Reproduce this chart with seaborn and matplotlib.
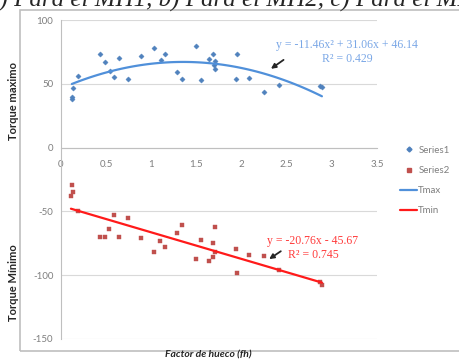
import numpy as np
import pandas as pd
import seaborn as sns
import matplotlib.pyplot as plt
from matplotlib.patches import Rectangle
from matplotlib.lines import Line2D

# Datos
fh_max = [0.12, 0.12, 0.13, 0.19, 0.43, 0.49, 0.54, 0.59, 0.64, 0.74, 0.89, 1.03, 1.11, 1.15, 1.28,
          1.34, 1.49, 1.55, 1.64, 1.68, 1.70, 1.71, 1.71, 1.94, 1.95, 2.08, 2.25, 2.42, 2.87, 2.89]
t_max = [37.7, 39.5, 46.4, 56.0, 73.4, 67.0, 60.0, 55.6, 70.0, 54.0, 72.0, 78.0, 68.6, 73.4, 59.2,
         53.5, 80.0, 53.2, 69.2, 73.4, 64.7, 67.8, 61.3, 53.7, 73.4, 54.8, 43.8, 48.7, 48.0, 47.2]

fh_min = [0.11, 0.12, 0.13, 0.19, 0.43, 0.49, 0.53, 0.59, 0.64, 0.74, 0.89, 1.03, 1.10, 1.15, 1.28,
          1.34, 1.49, 1.55, 1.64, 1.68, 1.68, 1.71, 1.71, 1.94, 1.95, 2.08, 2.25, 2.42, 2.87, 2.89]
t_min = [-38.3, -29.6, -35.0, -50.0, -69.7, -69.7, -63.7, -52.7, -70.0, -54.8, -71.0, -82.0, -73.0,
         -77.6, -67.0, -60.5, -87.5, -72.3, -88.6, -74.4, -85.4, -62.6, -81.5, -79.4, -98.0, -84.0,
         -84.7, -96.0, -105.6, -107.7]

eq_max = "y = -11.46x² + 31.06x + 46.14\nR² = 0.429"
eq_min = "y = -20.76x - 45.67\nR² = 0.745"

df_max = pd.DataFrame({'fh': fh_max, 'T': t_max})
df_min = pd.DataFrame({'fh': fh_min, 'T': t_min})

sns.set_style('white')
plt.rcParams['font.family'] = ['Lato', 'DejaVu Sans']
plt.rcParams['axes.unicode_minus'] = False

blue_pt = '#4f81bd'
red_pt = '#c0504d'
blue_ln = '#5090da'
red_ln = '#ff1a1a'
gray_txt = '#7f7f7f'

fig = plt.figure(figsize=(4.6, 3.62), dpi=100)

# marco del gráfico
fig.patches.append(Rectangle((20 / 460, 1 - 351 / 362), 460 / 460, (351 - 10) / 362,
                             transform=fig.transFigure, fill=False, edgecolor='#bfbfbf', lw=1.2))

# título cortado arriba
fig.text(-13 / 460, 1 - 7 / 362, "a) Para el MH1, b) Para el MH2, c) Para el MH3",
         family='Liberation Serif', style='italic', fontsize=18, va='baseline', ha='left')

ax = fig.add_axes([61 / 460, 1 - 339 / 362, (377 - 61) / 460, (339 - 20) / 362])

sns.scatterplot(data=df_max, x='fh', y='T', ax=ax, marker='D', s=7, color=blue_pt, edgecolor=blue_pt,
                linewidth=0.3, zorder=3)
sns.scatterplot(data=df_min, x='fh', y='T', ax=ax, marker='s', s=9, color=red_pt, edgecolor=red_pt,
                linewidth=0.3, zorder=3)
sns.regplot(data=df_max, x='fh', y='T', ax=ax, order=2, ci=None, scatter=False,
            line_kws={'color': blue_ln, 'lw': 1.6, 'zorder': 4})
sns.regplot(data=df_min, x='fh', y='T', ax=ax, order=1, ci=None, scatter=False,
            line_kws={'color': red_ln, 'lw': 1.6, 'zorder': 4})

ax.set_xlim(0, 3.5)
ax.set_ylim(-150, 100)
ax.set_xticks(np.arange(0, 3.51, 0.5))
ax.set_xticklabels(['0', '0.5', '1', '1.5', '2', '2.5', '3', '3.5'])
ax.set_yticks([-150, -100, -50, 0, 50, 100])
ax.set_yticklabels(['-150', '-100', '-50', '0', '50', '100'])
ax.grid(axis='y', color='#d9d9d9', lw=0.8)
ax.set_axisbelow(True)
for s in ['top', 'right']:
    ax.spines[s].set_visible(False)
ax.spines['left'].set_color('#bfbfbf')
ax.spines['bottom'].set_position(('data', 0))
ax.spines['bottom'].set_color('#bfbfbf')
ax.tick_params(axis='both', labelsize=7, labelcolor=gray_txt, color='#bfbfbf', length=2, width=0.6)
ax.tick_params(axis='x', direction='out', pad=7)
ax.tick_params(axis='y', pad=3.5)
ax.set_xlabel('')
ax.set_ylabel('')

# ecuaciones de tendencia
ax.text(3.17, 74.8, eq_max, family='Liberation Serif', fontsize=8.5, color='#7aa7e6',
        ha='center', va='center', linespacing=1.25)
ax.text(2.79, -78.8, eq_min, family='Liberation Serif', fontsize=8.5, color='#ff3b3b',
        ha='center', va='center', linespacing=1.25)
ax.annotate('', xy=(2.30, 60.5), xytext=(2.49, 70),
            arrowprops=dict(arrowstyle='-|>', color='#262626', lw=1.3, mutation_scale=7))
ax.annotate('', xy=(2.28, -88.6), xytext=(2.46, -80),
            arrowprops=dict(arrowstyle='-|>', color='#262626', lw=1.3, mutation_scale=7))

# etiquetas de ejes
fig.text(14 / 460, 1 - 101 / 362, 'Torque maximo', rotation=90, fontsize=8, fontweight='bold',
         color='#262626', ha='center', va='center')
fig.text(14 / 460, 1 - 283 / 362, 'Torque Mínimo', rotation=90, fontsize=8, fontweight='bold',
         color='#262626', ha='center', va='center')
fig.text(208 / 460, 1 - 355 / 362, 'Factor de hueco (fh)', fontsize=7.5, fontweight='bold',
         style='italic', color='#262626', ha='center', va='center')

# leyenda
handles = [Line2D([], [], marker='D', ls='', color=blue_pt, markersize=2.5),
           Line2D([], [], marker='s', ls='', color=red_pt, markersize=2.8),
           Line2D([], [], color=blue_ln, lw=1.6),
           Line2D([], [], color=red_ln, lw=1.6)]
leg = fig.legend(handles, ['Series1', 'Series2', 'Tmax', 'Tmin'], loc='upper left',
                 bbox_to_anchor=(396 / 460, 1 - 142 / 362), frameon=False, fontsize=7,
                 labelcolor=gray_txt, handlelength=1.8, handletextpad=0.1, labelspacing=1.15,
                 borderaxespad=0)

fig.savefig('out.png', dpi=100)
